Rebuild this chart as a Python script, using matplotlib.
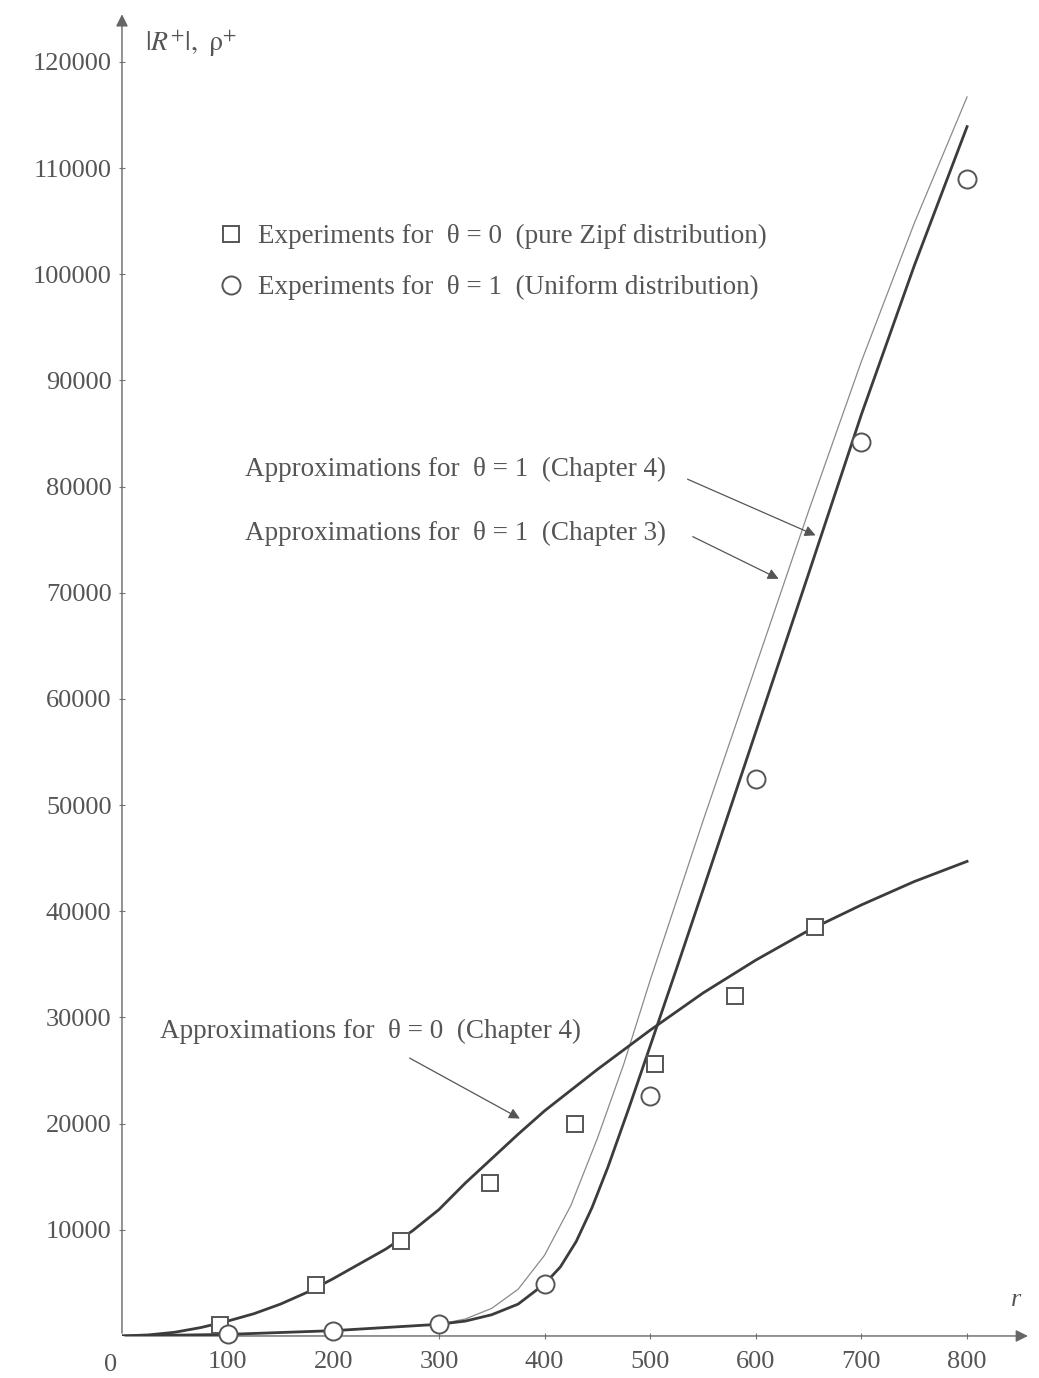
import matplotlib.pyplot as plt

zipf_r = [93, 184, 264, 348, 429, 505, 580, 656]
zipf_exp = [1000, 4800, 8950, 14400, 20000, 25600, 32000, 38500]
unif_r = [100, 200, 300, 400, 500, 600, 700, 800]
unif_exp = [200, 450, 1100, 4900, 22600, 52500, 84200, 109000]

# Approximation curves
zipf_ch4_r = [0, 25, 50, 75, 100, 125, 150, 175, 200, 225, 250, 275, 300, 325, 350, 375, 400,
              450, 500, 550, 600, 650, 700, 750, 800]
zipf_ch4 = [0, 100, 350, 800, 1400, 2100, 3000, 4100, 5400, 6800, 8200, 9900, 11900, 14400, 16700,
            19000, 21200, 25100, 28800, 32300, 35400, 38200, 40600, 42800, 44700]
unif_ch4_r = [0, 100, 200, 300, 325, 350, 375, 400, 415, 430, 445, 460, 480, 500, 525, 550,
              600, 650, 700, 750, 800]
unif_ch4 = [0, 150, 500, 1100, 1400, 2000, 3000, 4900, 6500, 8900, 12100, 15900, 21500, 27300,
            34600, 42000, 56900, 71800, 86800, 100800, 113900]
unif_ch3_r = [0, 100, 200, 300, 325, 350, 375, 400, 425, 450, 475, 500, 550, 600, 650, 700, 750, 800]
unif_ch3 = [0, 150, 500, 1100, 1600, 2600, 4400, 7600, 12300, 18600, 25600, 33500, 48500, 63100,
            77700, 91800, 104800, 116700]

x_ticks = [100, 200, 300, 400, 500, 600, 700, 800]
y_ticks = [10000, 20000, 30000, 40000, 50000, 60000, 70000, 80000, 90000, 100000, 110000, 120000]

plt.rcParams['font.family'] = ['Liberation Serif', 'DejaVu Serif']
plt.rcParams['mathtext.fontset'] = 'stix'
TextColor = '#555555'
LineColor = '#3c3c3c'
FontSize = 19.5

Figure = plt.figure(figsize=(10.39, 13.78), dpi=100)
Axes = Figure.add_axes([0.1174, 0.0305, 0.8642, 0.9554])
Axes.set_xlim(0, 850)
Axes.set_ylim(0, 124000)

for Side in ['top', 'right', 'left', 'bottom']:
    Axes.spines[Side].set_visible(False)

# axis arrows
Axes.annotate('', xy=(1.012, 0), xytext=(0, 0), xycoords='axes fraction',
              arrowprops=dict(arrowstyle='-|>', color='#666666', lw=1.0, mutation_scale=18))
Axes.annotate('', xy=(0, 1.006), xytext=(0, 0), xycoords='axes fraction',
              arrowprops=dict(arrowstyle='-|>', color='#666666', lw=1.0, mutation_scale=18))

Axes.set_xticks(x_ticks)
Axes.set_yticks(y_ticks)
Axes.set_xticklabels([str(v) for v in x_ticks])
Axes.set_yticklabels([str(v) for v in y_ticks])
Axes.tick_params(axis='both', direction='inout', length=5, width=0.8, color='#777777',
                 labelsize=19, labelcolor=TextColor, pad=5)
Axes.tick_params(axis='x', pad=8)
Axes.text(-11, -1700, '0', ha='center', va='top', fontsize=19, color=TextColor)

# curves
Axes.plot(unif_ch3_r, unif_ch3, color='#8a8a8a', lw=0.9, zorder=2)
Axes.plot(unif_ch4_r, unif_ch4, color=LineColor, lw=2.0, zorder=3)
Axes.plot(zipf_ch4_r, zipf_ch4, color=LineColor, lw=2.0, zorder=3)

# experiments
Squares, = Axes.plot(zipf_r, zipf_exp, 's', markersize=11, markerfacecolor='white',
                     markeredgecolor='#555555', markeredgewidth=1.4, zorder=4, clip_on=False,
                     label='Experiments for  θ = 0  (pure Zipf distribution)')
Circles, = Axes.plot(unif_r, unif_exp, 'o', markersize=13, markerfacecolor='white',
                     markeredgecolor='#555555', markeredgewidth=1.4, zorder=4, clip_on=False,
                     label='Experiments for  θ = 1  (Uniform distribution)')

Axes.legend(handles=[Squares, Circles], loc='upper left', bbox_to_anchor=(0.079, 0.863),
            frameon=False, fontsize=FontSize, handlelength=1.0, handletextpad=0.5,
            labelspacing=0.95, labelcolor=TextColor)

# annotations
Arrow = dict(arrowstyle='-|>', color='#555555', lw=0.9, mutation_scale=16)
Axes.text(116, 81660, 'Approximations for  θ = 1  (Chapter 4)', fontsize=FontSize, color=TextColor, va='center')
Axes.annotate('', xy=(659, 75300), xytext=(533, 80800), arrowprops=Arrow)
Axes.text(116, 75630, 'Approximations for  θ = 1  (Chapter 3)', fontsize=FontSize, color=TextColor, va='center')
Axes.annotate('', xy=(624, 71200), xytext=(538, 75400), arrowprops=Arrow)
Axes.text(36, 28730, 'Approximations for  θ = 0  (Chapter 4)', fontsize=FontSize, color=TextColor, va='center')
Axes.annotate('', xy=(379, 20350), xytext=(270, 26300), arrowprops=Arrow)

Axes.text(22, 121700, r'$|R^{+}|,\ \mathrm{\rho}^{+}$', fontsize=20, color=TextColor, va='center')
Axes.text(842, 3400, 'r', fontsize=19, style='italic', color=TextColor, va='center')

Figure.savefig('out.png', dpi=100)
plt.close(Figure)
